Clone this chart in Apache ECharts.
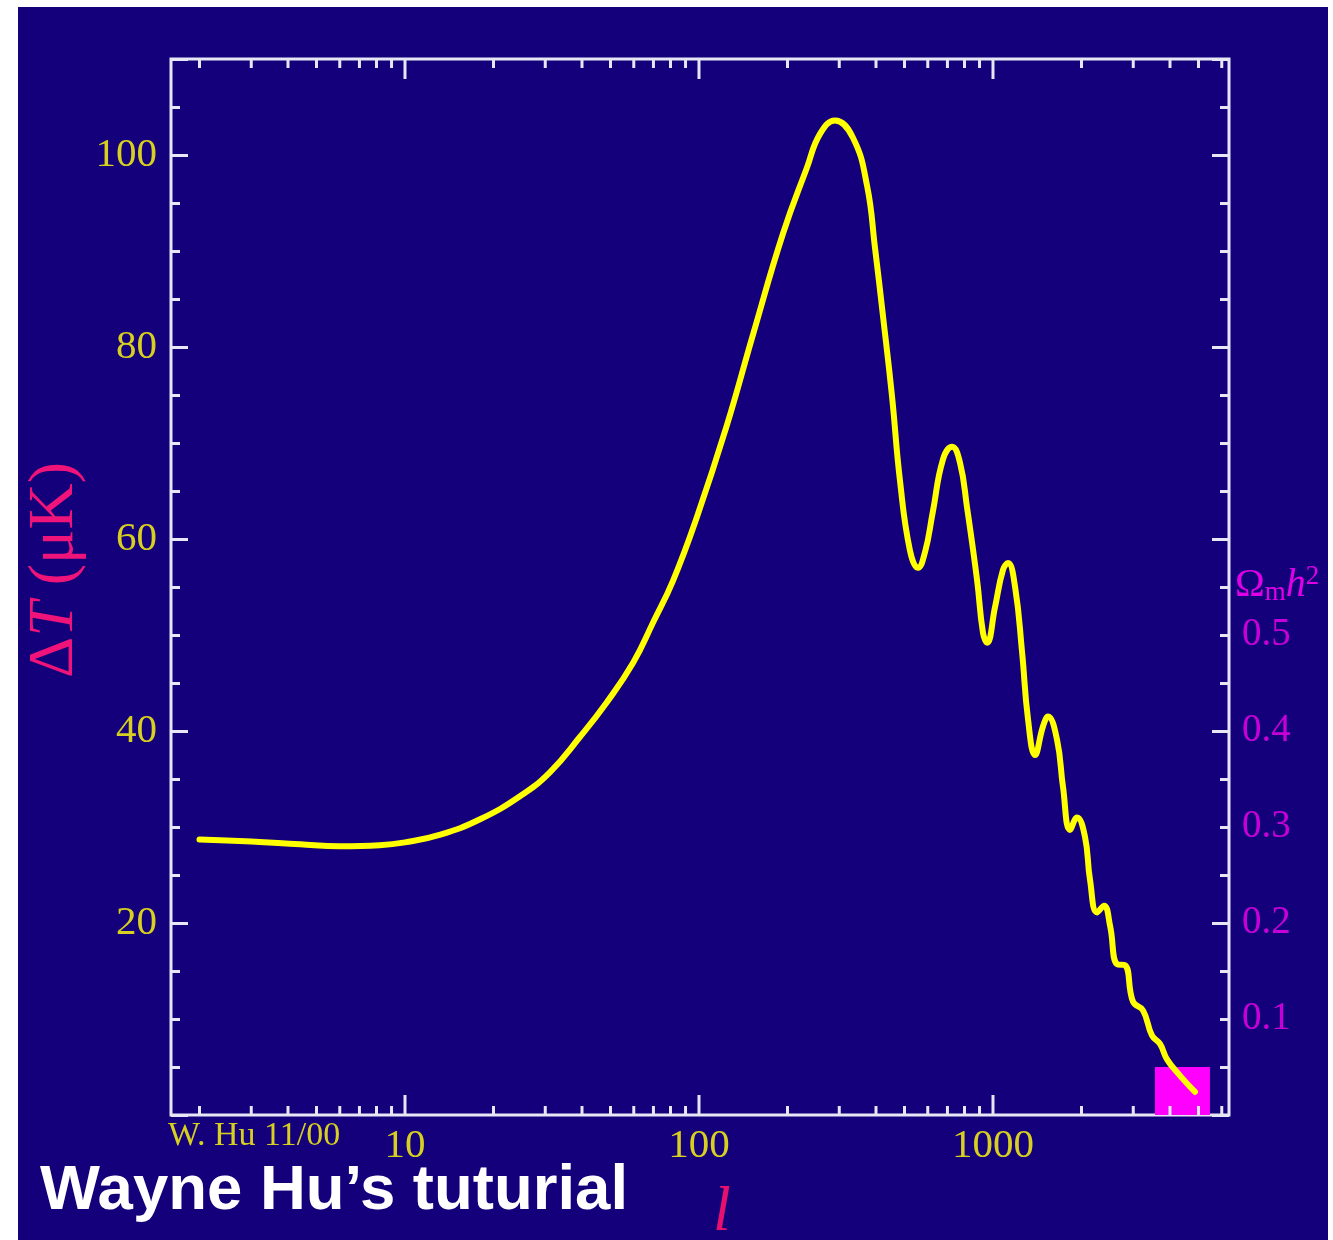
<!DOCTYPE html>
<html>
<head>
<meta charset="utf-8">
<script src="https://cdn.jsdelivr.net/npm/echarts@6/dist/echarts.min.js"></script>
<style>
html,body{margin:0;padding:0;background:#fff;}
#cmb{position:absolute;left:18px;top:7px;width:1310px;height:1233px;}
</style>
</head>
<body>
<div id="cmb"></div>
<script>
// multipole l and temperature fluctuation (uK)
var ell=[2,3,4.4,6,8.2,10,13.2,18,24.6,31.1,39.4,48.6,59.7,69.8,81.7,98.4,124,153,193,233,258,290,334,373,397,423,453,483,522,556,588,624,676,726,773,816,883,925,955,1016,1082,1125,1189,1256,1316,1390,1480,1539,1651,1730,1828,1931,2055,2138,2259,2387,2502,2643,2813,2994,3238,3473,3700,3908,4325,4865];
var dT=[28.7,28.5,28.2,28.0,28.1,28.4,29.2,30.8,33.2,35.7,39.4,43.0,47.1,51.3,55.7,62.3,71.7,81.4,91.8,98.7,102.2,103.6,101.8,96.8,90.3,83.1,75,66,58.8,57.0,58.7,62.8,68.3,69.6,67.9,63.3,55.7,50.2,49.2,52.9,56.8,57.5,55.0,48.2,41.2,37.5,40.5,41.5,39.1,34.2,29.7,31.0,29.0,24.5,21.1,21.8,19.7,15.7,15.6,11.8,10.9,8.3,7.4,5.8,4.1,2.4];
// x labels (major ticks) and minor ticks of the log axis
var xLabels=[10,100,1000];
var xMinor=[2,3,4,5,6,7,8,9,20,30,40,50,60,70,80,90,200,300,400,500,600,700,800,900,2000,3000,4000,5000,6000];
// right hand labels (Omega_m h^2)
var omegaLabels=[0.1,0.2,0.3,0.4,0.5];
// magenta box
var boxL=[3556,5470];
var boxT=[0,5];

var xMin=1.6,xMax=6350,yMin=0,yMax=110;
var frame='#e6e6f5';
var yel='#d8d020';
var mag='#e000e8';
var serif='"Liberation Serif","DejaVu Serif",serif';

var chart=echarts.init(document.getElementById('cmb'));

function yAx(pos,interval,len,lab){
	return {
		type:'value',position:pos,min:yMin,max:yMax,interval:interval,
		axisLine:{show:false},splitLine:{show:false},
		axisTick:{show:true,inside:true,length:len,lineStyle:{color:frame,width:3}},
		axisLabel:lab?{show:true,color:yel,fontFamily:serif,fontSize:41,margin:14,
			formatter:function(v){return (v>0&&v<=100)?String(v):'';}}:{show:false}
	};
}

var tickData=xLabels.map(function(v){return [v,20];}).concat(xMinor.map(function(v){return [v,9];}));

var option={
	backgroundColor:'#14007a',
	animation:false,
	grid:{left:153,top:52,right:99,bottom:125,show:true,borderColor:frame,borderWidth:3,backgroundColor:'transparent'},
	xAxis:[{
		type:'log',logBase:10,min:xMin,max:xMax,position:'bottom',
		axisLine:{show:false},splitLine:{show:false},axisTick:{show:false},
		axisLabel:{color:yel,fontFamily:serif,fontSize:41,margin:11,
			formatter:function(v){var r=Math.round(v);return xLabels.indexOf(r)>=0?String(r):'';}}
	}],
	yAxis:[
		yAx('left',20,17,true),
		yAx('left',5,9,false),
		yAx('right',20,17,false),
		yAx('right',5,9,false),
		{
			type:'value',position:'right',min:0,max:1.1,interval:0.05,
			axisLine:{show:false},splitLine:{show:false},axisTick:{show:false},
			axisLabel:{show:true,color:'#c800d8',fontFamily:serif,fontSize:39,margin:13,
				formatter:function(v){
					var k=Math.round(v*100);
					for(var i=0;i<omegaLabels.length;i++){if(Math.round(omegaLabels[i]*100)===k)return omegaLabels[i].toFixed(1);}
					return '';
				}
			}
		}
	],
	series:[{
		type:'custom',
		xAxisIndex:0,yAxisIndex:0,z:1,silent:true,
		data:[[boxL[0],boxT[0],boxL[1],boxT[1]]],
		renderItem:function(params,api){
			var p0=api.coord([api.value(0),api.value(1)]);
			var p1=api.coord([api.value(2),api.value(3)]);
			return {type:'rect',shape:{x:p0[0],y:p1[1],width:p1[0]-p0[0],height:p0[1]-p1[1]},style:{fill:'#ff00ff'}};
		}
	},{
		type:'custom',
		xAxisIndex:0,yAxisIndex:0,z:2,silent:true,
		data:tickData,
		renderItem:function(params,api){
			var len=api.value(1);
			var b=api.coord([api.value(0),yMin]);
			var t=api.coord([api.value(0),yMax]);
			var st={stroke:frame,lineWidth:3};
			return {type:'group',children:[
				{type:'line',shape:{x1:b[0],y1:b[1],x2:b[0],y2:b[1]-len},style:st},
				{type:'line',shape:{x1:t[0],y1:t[1],x2:t[0],y2:t[1]+len},style:st}
			]};
		}
	},{
		type:'line',
		xAxisIndex:0,yAxisIndex:0,z:3,
		data:ell.map(function(l,i){return [l,dT[i]];}),
		smooth:0.45,
		symbol:'none',
		lineStyle:{color:'#ffff00',width:6,cap:'round',join:'round'}
	}],
	graphic:[{
		type:'text',x:37,y:563,rotation:Math.PI/2,
		style:{text:'{a|\u0394}{b|T}{a| (\u03BCK)}',align:'center',verticalAlign:'middle',
			rich:{
				a:{fill:'#f0147a',fontFamily:serif,fontSize:64},
				b:{fill:'#f0147a',fontFamily:serif,fontSize:64,fontStyle:'italic'}
			}}
	},{
		type:'text',x:1217,y:578,
		style:{text:'{o|\u03A9}{s|m}{h|h}{p|2}',align:'left',verticalAlign:'middle',
			rich:{
				o:{fill:mag,fontFamily:serif,fontSize:40},
				s:{fill:mag,fontFamily:serif,fontSize:27,padding:[16,0,0,0]},
				h:{fill:mag,fontFamily:serif,fontSize:40,fontStyle:'italic'},
				p:{fill:mag,fontFamily:serif,fontSize:27,padding:[0,0,16,0]}
			}}
	},{
		type:'text',x:704,y:1206,
		style:{text:'l',fill:'#e8106e',font:'italic 64px '+serif,align:'center',verticalAlign:'middle'}
	},{
		type:'text',x:150,y:1129,
		style:{text:'W. Hu 11/00',fill:yel,font:'34px '+serif,align:'left',verticalAlign:'middle'}
	},{
		type:'text',x:22,y:1184,
		style:{text:'Wayne Hu\u2019s tuturial',fill:'#ffffff',font:'bold 63.5px "Liberation Sans",Arial,sans-serif',align:'left',verticalAlign:'middle'}
	}]
};
chart.setOption(option);
</script>
</body>
</html>
